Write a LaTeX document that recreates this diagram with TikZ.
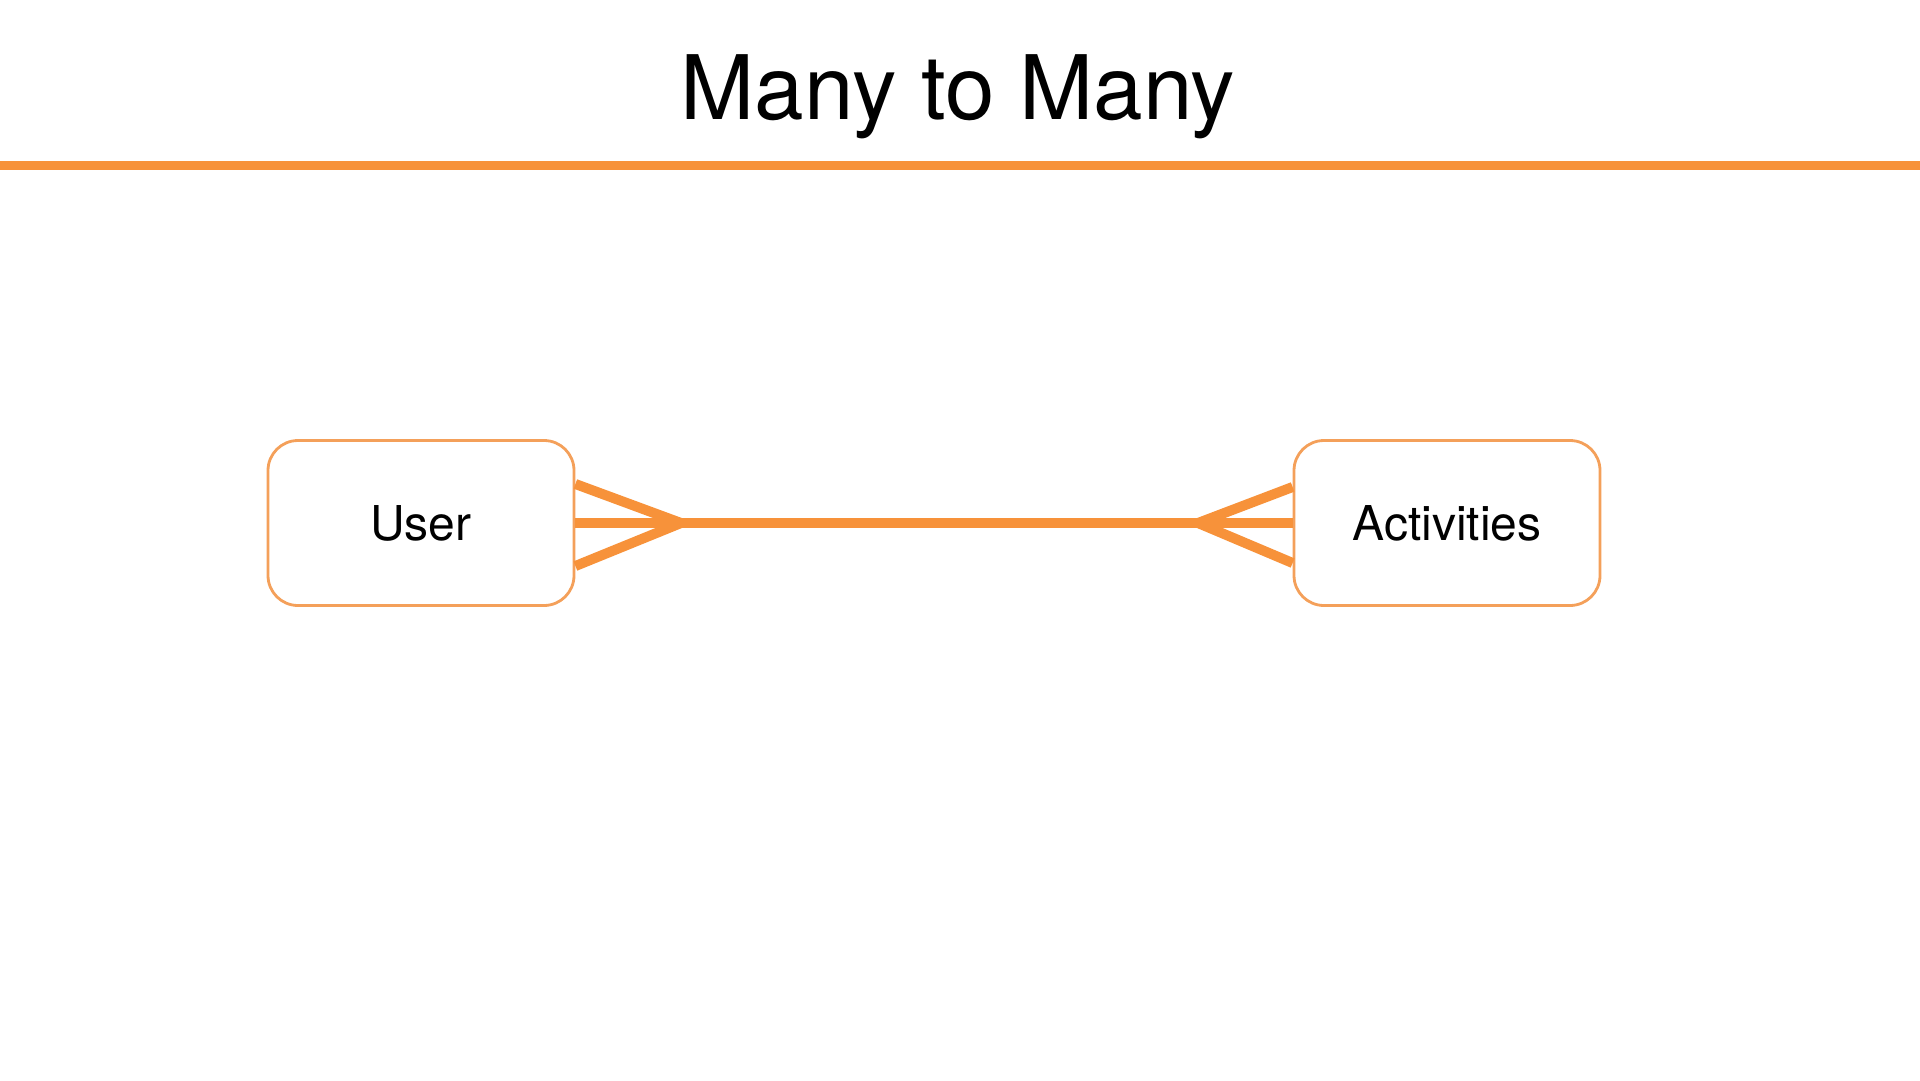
\documentclass[tikz,border=0pt]{standalone}
\usepackage{fontspec}
\setmainfont{TeX Gyre Heros}
\definecolor{mmorange}{RGB}{247,146,58}
\definecolor{mmbox}{RGB}{244,160,90}
\begin{document}
\begin{tikzpicture}[x=1pt,y=-1pt,
    entity/.style={draw=mmbox, line width=2.8pt, rounded corners=30pt, fill=white,
        minimum width=306pt, minimum height=165pt, font=\fontsize{48}{56}\selectfont},
    rel/.style={draw=mmorange, line width=10pt}]
    \useasboundingbox (0,0) rectangle (1920,1080);
    \node[anchor=base, font=\fontsize{89}{100}\selectfont] (title) at (958,119) {Many to Many};
    \draw[mmorange, line width=9pt] (0,165) coordinate (rl) -- (1920,165) coordinate (rr);
    \node[entity] (user) at (421,523) {User};
    \node[entity] (acts) at (1447,523) {Activities};
    \coordinate (uf) at (681,523);
    \coordinate (af) at (1198,523);
\draw[rel] (user.east)--(uf)--(af)--(acts.west);
\draw[rel] ([yshift=39pt]user.east)--(uf)--([yshift=-43pt]user.east);
\draw[rel] ([yshift=36pt]acts.west)--(af)--([yshift=-40pt]acts.west);
\end{tikzpicture}
\end{document}
